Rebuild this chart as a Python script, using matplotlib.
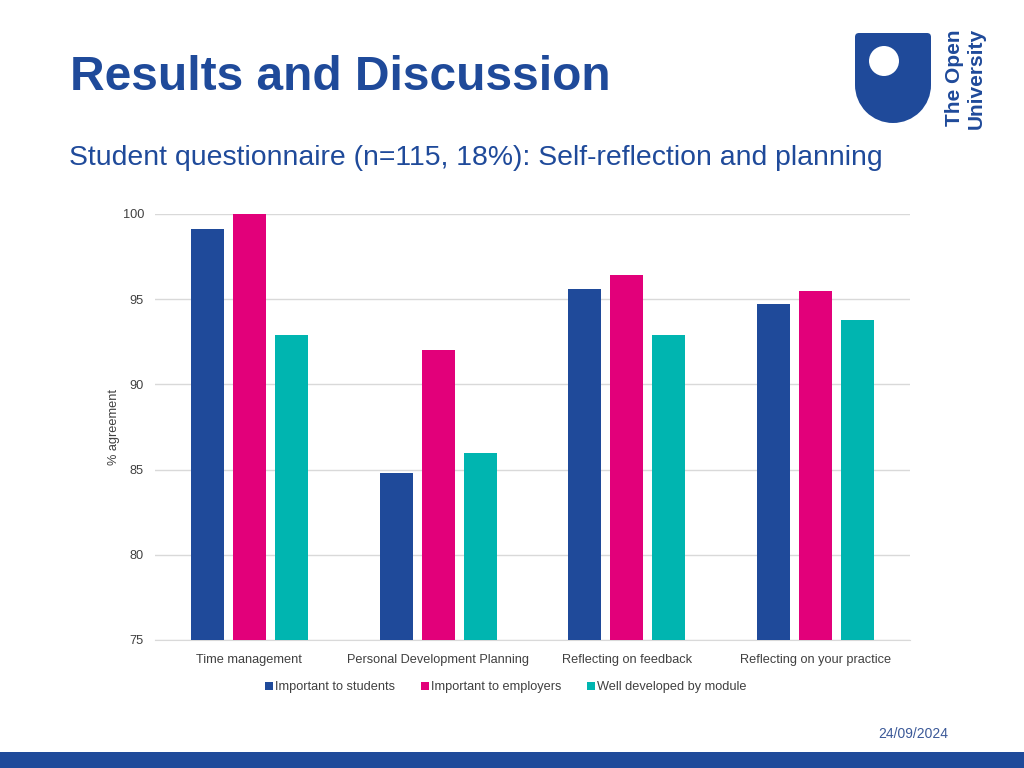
import matplotlib.pyplot as plt
import matplotlib.patches as mpatches
import numpy as np

plt.rcParams['font.family'] = ['Liberation Sans', 'DejaVu Sans']

categories = ["Time management", "Personal Development Planning",
              "Reflecting on feedback", "Reflecting on your practice"]
students = [99.1, 84.8, 95.6, 94.7]
employers = [100.0, 92.0, 96.4, 95.5]
module = [92.9, 86.0, 92.9, 93.8]
series_names = ["Important to students", "Important to employers",
                "Well developed by module"]
yticks = [75, 80, 85, 90, 95, 100]

OU_BLUE = "#1F4A9A"
PINK = "#E2007A"
TEAL = "#00B5B0"
colors = [OU_BLUE, PINK, TEAL]

fig = plt.figure(figsize=(10.24, 7.68), dpi=100)

# slide header
fig.text(70 / 1024, 1 - 78 / 768, "Results and Discussion", fontsize=34.5,
         fontweight='bold', color=OU_BLUE, va='center', ha='left')
fig.text(69 / 1024, 1 - 158 / 768,
         "Student questionnaire (n=115, 18%): Self-reflection and planning",
         fontsize=20.4, color=OU_BLUE, va='center', ha='left')

# logo: shield with a hole
lax = fig.add_axes([855 / 1024, 1 - 123 / 768, 76 / 1024, 90 / 768])
lax.set_xlim(0, 76)
lax.set_ylim(0, 90)
lax.axis('off')
shield = mpatches.FancyBboxPatch((0, 38), 76, 52, boxstyle="round,pad=0,rounding_size=4",
                                 fc=OU_BLUE, ec='none')
lax.add_patch(shield)
lax.add_patch(mpatches.Rectangle((0, 38), 76, 10, fc=OU_BLUE, ec='none'))
lax.add_patch(mpatches.Wedge((38, 38), 38, 180, 360, fc=OU_BLUE, ec='none'))
lax.add_patch(mpatches.Circle((29, 62), 15, fc='white', ec='none'))
fig.text(954 / 1024, 1 - 78 / 768, "The Open", rotation=90, fontsize=15,
         fontweight='bold', color=OU_BLUE, va='center', ha='center')
fig.text(976 / 1024, 1 - 78 / 768, "University", rotation=90, fontsize=15,
         fontweight='bold', color=OU_BLUE, va='center', ha='center')

# chart
ax = fig.add_axes([155 / 1024, 1 - 640 / 768, 755 / 1024, 426 / 768])
x = np.arange(len(categories))
width = 0.175
step = 0.222
for i, (vals, name) in enumerate(zip([students, employers, module], series_names)):
    ax.bar(x + (i - 1) * step, vals, width, color=colors[i], label=name, zorder=3)

ax.set_xlim(-0.5, len(categories) - 0.5)
ax.set_ylim(75, 100)
ax.set_yticks(yticks)
ax.set_xticks(x)
ax.set_xticklabels(categories)
ax.tick_params(length=0, labelsize=9.2, labelcolor='#404040', pad=10)
ax.tick_params(axis='y', pad=8)
ax.yaxis.grid(True, color='#D9D9D9', linewidth=1, zorder=0)
for s in ['top', 'right', 'left']:
    ax.spines[s].set_visible(False)
ax.spines['bottom'].set_color('#D9D9D9')
ax.set_ylabel("% agreement", fontsize=9.2, color='#404040', labelpad=2)

ax.legend(loc='upper center', bbox_to_anchor=(0.465, -0.07), ncol=3, frameon=False,
          fontsize=9.2, handlelength=0.6, handleheight=0.6, handletextpad=0.2,
          columnspacing=2.0, labelcolor='#404040')

fig.text(913 / 1024, 1 - 734 / 768, "24/09/2024", fontsize=10, color='#3B5998',
         ha='center', va='center')

# bottom band
fig.add_artist(mpatches.Rectangle((0, 0), 1, 16 / 768, transform=fig.transFigure,
                                  fc=OU_BLUE, ec='none'))

fig.savefig("out.png", dpi=100)
